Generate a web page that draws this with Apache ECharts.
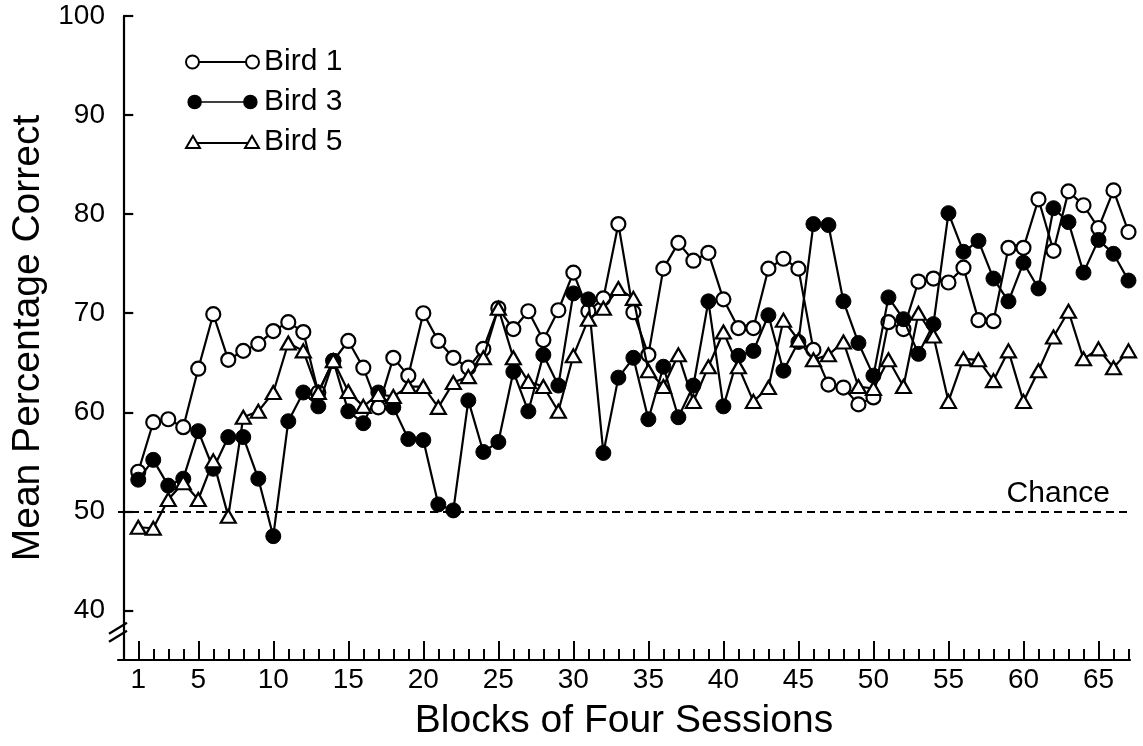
<!DOCTYPE html>
<html>
<head>
<meta charset="utf-8">
<script src="https://cdn.jsdelivr.net/npm/echarts@6/dist/echarts.min.js"></script>
<style>
  html, body { margin: 0; padding: 0; background: #fff; }
  #chart { width: 1143px; height: 746px; }
</style>
</head>
<body>
<div id="chart"></div>
<script>
// ---- data ----
const blocks = [1,2,3,4,5,6,7,8,9,10,11,12,13,14,15,16,17,18,19,20,21,22,23,24,25,26,27,28,29,30,31,32,33,34,35,36,37,38,39,40,41,42,43,44,45,46,47,48,49,50,51,52,53,54,55,56,57,58,59,60,61,62,63,64,65,66,67];
const bird1 = [54.0,59.0,59.3,58.5,64.4,69.9,65.3,66.2,66.9,68.2,69.1,68.1,62.0,65.2,67.2,64.5,60.5,65.5,63.7,70.0,
               67.2,65.5,64.5,66.4,70.5,68.4,70.2,67.3,70.3,74.1,70.2,71.5,79.0,70.1,65.8,74.5,77.1,75.3,76.1,71.4,
               68.5,68.5,74.5,75.5,74.5,66.3,62.8,62.5,60.8,61.5,69.1,68.4,73.2,73.5,73.1,74.6,69.3,69.2,76.6,76.6,
               81.5,76.3,82.3,80.9,78.6,82.4,78.2];
const bird3 = [53.2,55.2,52.6,53.3,58.1,54.3,57.5,57.5,53.3,47.5,59.1,62.0,60.6,65.2,60.1,58.9,62.0,60.5,57.3,57.2,
               50.7,50.1,61.2,56.0,57.0,64.1,60.1,65.8,62.7,72.0,71.4,55.9,63.5,65.5,59.3,64.6,59.5,62.7,71.2,60.6,
               65.7,66.2,69.8,64.2,67.1,79.0,78.9,71.2,67.0,63.7,71.6,69.4,65.9,68.9,80.1,76.2,77.3,73.5,71.2,75.1,
               72.5,80.6,79.2,74.1,77.4,76.0,73.3];
const bird5 = [48.4,48.3,51.2,52.9,51.2,55.1,49.5,59.5,60.1,62.0,67.0,66.2,62.0,65.2,62.1,60.6,61.8,61.6,62.6,62.6,
               60.5,63.0,63.6,65.5,70.5,65.5,63.1,62.6,60.1,65.7,69.4,70.5,72.5,71.5,64.2,62.6,65.8,61.1,64.6,68.1,
               64.6,61.1,62.5,69.3,67.3,65.3,65.8,67.1,62.6,62.4,65.3,62.6,70.0,67.7,61.1,65.4,65.3,63.2,66.2,61.1,
               64.2,67.6,70.2,65.4,66.4,64.5,66.2];
const seriesNames = ['Bird 1', 'Bird 3', 'Bird 5'];
const xLabelValues = [1,5,10,15,20,25,30,35,40,45,50,55,60,65];
const yLabelValues = [40,50,60,70,80,90,100];
const chanceValue = 50;
const chanceText = 'Chance';
const xTitle = 'Blocks of Four Sessions';
const yTitle = 'Mean Percentage Correct';

// ---- chart ----
const FONT = '"Liberation Sans", Arial, Helvetica, sans-serif';
const pairs = arr => blocks.map((b, i) => [b, arr[i]]);

const iconOpen = 'path://M0.5,7 A6.5,6.5 0 1,1 13.5,7 A6.5,6.5 0 1,1 0.5,7 Z M60.5,7 A6.5,6.5 0 1,1 73.5,7 A6.5,6.5 0 1,1 60.5,7 Z M13.5,7 L60.5,7';
const iconFilled = 'path://M0,7 A7,7 0 1,1 14,7 A7,7 0 1,1 0,7 Z M60,7 A7,7 0 1,1 74,7 A7,7 0 1,1 60,7 Z M14,7 L60,7';
const iconTri = 'path://M0.5,12.5 L7.5,0.5 L14.5,12.5 Z M59.5,12.5 L66.5,0.5 L73.5,12.5 Z M12,7.5 L62,7.5';

const chart = echarts.init(document.getElementById('chart'), null, { renderer: 'canvas' });
const xMin = -0.35, xMax = 67.1, yMin = 35, yMax = 100;

chart.setOption({
  animation: false,
  backgroundColor: '#fff',
  textStyle: { fontFamily: FONT, color: '#000' },
  grid: { left: 118, right: 13, top: 16, bottom: 85, containLabel: false },
  legend: {
    orient: 'vertical',
    left: 180,
    top: 42,
    selectedMode: false,
    itemWidth: 73,
    itemHeight: 13,
    itemGap: 10,
    itemTextGap: 10,
    textStyle: { fontSize: 30, color: '#000', fontFamily: FONT, lineHeight: 30 },
    data: [
      { name: seriesNames[0], icon: iconOpen, itemStyle: { color: '#fff', borderColor: '#000', borderWidth: 2 } },
      { name: seriesNames[1], icon: iconFilled, itemStyle: { color: '#000', borderColor: '#000', borderWidth: 1.5 } },
      { name: seriesNames[2], icon: iconTri, itemStyle: { color: '#fff', borderColor: '#000', borderWidth: 2 } }
    ]
  },
  xAxis: [
    {
      type: 'value', min: xMin, max: xMax, position: 'bottom',
      name: xTitle, nameLocation: 'middle', nameGap: 42,
      nameTextStyle: { fontSize: 39, color: '#000', fontFamily: FONT },
      axisLine: { show: true, lineStyle: { color: '#000', width: 2.2 } },
      axisTick: { show: true, inside: true, length: 19, customValues: xLabelValues, lineStyle: { color: '#000', width: 2 } },
      axisLabel: { show: true, customValues: xLabelValues, fontSize: 28, color: '#000', margin: 6, fontFamily: FONT },
      splitLine: { show: false }
    },
    {
      type: 'value', min: xMin, max: xMax, position: 'bottom', offset: 0,
      axisLine: { show: false },
      axisTick: { show: true, inside: true, length: 11, customValues: blocks, lineStyle: { color: '#000', width: 2 } },
      axisLabel: { show: false },
      splitLine: { show: false }
    }
  ],
  yAxis: {
    type: 'value', min: yMin, max: yMax,
    name: yTitle, nameLocation: 'middle', nameGap: 70,
    nameTextStyle: { fontSize: 39, color: '#000', fontFamily: FONT },
    axisLine: { show: true, lineStyle: { color: '#000', width: 2.2 } },
    axisTick: { show: true, inside: true, length: 10, customValues: yLabelValues, lineStyle: { color: '#000', width: 2.2 } },
    axisLabel: { show: true, customValues: yLabelValues, fontSize: 28, color: '#000', margin: 13, fontFamily: FONT },
    splitLine: { show: false }
  },
  series: [
    {
      name: seriesNames[0], type: 'line', xAxisIndex: 0, data: pairs(bird1),
      symbol: 'circle', symbolSize: 14,
      itemStyle: { color: '#fff', borderColor: '#000', borderWidth: 2.2 },
      lineStyle: { color: '#000', width: 2.2 },
      emphasis: { disabled: true },
      markLine: {
        silent: true, symbol: ['none', 'none'],
        lineStyle: { color: '#000', width: 1.8, type: [8, 5] },
        label: { show: true, position: 'insideEndTop', formatter: chanceText, fontSize: 30, color: '#000', fontFamily: FONT, distance: [20, 3] },
        data: [{ yAxis: chanceValue }]
      },
      z: 3
    },
    {
      name: seriesNames[1], type: 'line', xAxisIndex: 0, data: pairs(bird3),
      symbol: 'circle', symbolSize: 15,
      itemStyle: { color: '#000', borderColor: '#000', borderWidth: 1 },
      lineStyle: { color: '#000', width: 2.2 },
      emphasis: { disabled: true },
      z: 4
    },
    {
      name: seriesNames[2], type: 'line', xAxisIndex: 0, data: pairs(bird5),
      symbol: 'triangle', symbolSize: [15, 13],
      itemStyle: { color: '#fff', borderColor: '#000', borderWidth: 2.2 },
      lineStyle: { color: '#000', width: 2.2 },
      emphasis: { disabled: true },
      z: 5
    }
  ]
});

// y-axis break mark (//) between 40 and the x-axis
function drawBreak() {
  const ax = chart.convertToPixel({ xAxisIndex: 0 }, xMin);
  const yA = chart.convertToPixel({ yAxisIndex: 0 }, 38.2);
  const yB = chart.convertToPixel({ yAxisIndex: 0 }, 37.4);
  chart.setOption({
    graphic: [
      { type: 'rect', z: 100, shape: { x: ax - 4, y: yA, width: 8, height: yB - yA }, style: { fill: '#fff' } },
      { type: 'line', z: 101, shape: { x1: ax - 9, y1: yA + 5.5, x2: ax + 9, y2: yA - 5.5 }, style: { stroke: '#000', lineWidth: 2.2 } },
      { type: 'line', z: 101, shape: { x1: ax - 9, y1: yB + 5.5, x2: ax + 9, y2: yB - 5.5 }, style: { stroke: '#000', lineWidth: 2.2 } }
    ]
  });
}
drawBreak();
</script>
</body>
</html>
